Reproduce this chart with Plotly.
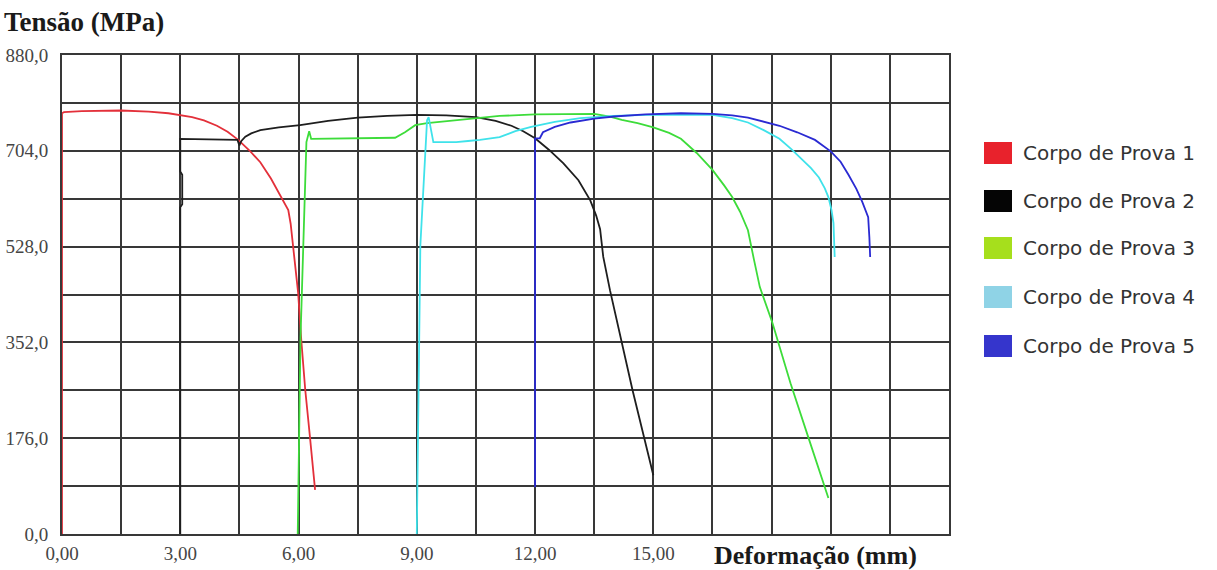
import plotly.graph_objects as go

# ---- data ----
series_names = ["Corpo de Prova 1", "Corpo de Prova 2", "Corpo de Prova 3",
                "Corpo de Prova 4", "Corpo de Prova 5"]

x1 = [0, 0, 0.05, 0.5, 1.5, 2.2, 2.7, 3.0, 3.3, 3.6, 3.93, 4.2, 4.47, 4.75, 5.03,
      5.3, 5.5, 5.65, 5.74, 5.8, 5.86, 5.99, 6.07, 6.17, 6.29, 6.42]
y1 = [0, 773, 775, 777, 778, 776, 773, 770, 766, 760, 750, 739, 724, 705, 683,
      653, 627, 606, 595, 570, 527, 443, 356, 265, 178, 81]

x2 = [3.0, 3.0, 3.05, 3.05, 3.0, 3.0, 4.45, 4.5, 4.55, 4.65, 4.8, 5.03, 5.5, 6.04,
      6.75, 7.5, 8.25, 9.0, 9.75, 10.5, 11.0, 11.4, 11.7, 12.0, 12.35, 12.72, 13.1,
      13.4, 13.55, 13.65, 13.73, 13.9, 14.47, 15.0]
y2 = [0, 600, 606, 660, 666, 726, 724, 714, 722, 730, 736, 742, 747, 751,
      759, 765, 768, 770, 769, 766, 759, 750, 740, 727, 706, 681, 650,
      613, 585, 560, 509, 448, 265, 108]

x3 = [5.98, 6.05, 6.2, 6.27, 6.32, 7.0, 8.45, 8.7, 8.96, 9.26, 9.97, 10.5, 11.1,
      12.0, 13.5, 13.9, 14.2, 14.6, 15.0, 15.4, 15.7, 16.1, 16.5, 16.8, 17.0, 17.2,
      17.4, 17.55, 17.7, 18.02, 18.48, 18.93, 19.44]
y3 = [0, 360, 720, 740, 726, 727, 728, 738, 751, 755, 760, 764, 768,
      771, 772, 767, 761, 755, 747, 737, 726, 700, 669, 640, 619, 592,
      558, 505, 454, 388, 277, 178, 66]

x4 = [9.0, 9.04, 9.09, 9.26, 9.3, 9.42, 10.0, 10.3, 10.6, 11.1, 11.5, 11.9, 12.5,
      13.15, 14.0, 14.85, 16.5, 17.0, 17.4, 17.8, 18.2, 18.5, 18.7, 19.0, 19.2,
      19.35, 19.44, 19.52, 19.57, 19.6]
y4 = [0, 246, 530, 760, 766, 720, 720, 722, 724, 729, 740, 748, 757,
      764, 768, 770, 770, 764, 756, 742, 726, 707, 693, 672, 655,
      635, 619, 595, 571, 509]

x5 = [12.0, 12.0, 12.12, 12.2, 12.5, 12.9, 13.5, 14.0, 14.8, 15.7, 16.5, 17.0,
      17.4, 17.8, 18.2, 18.65, 19.1, 19.5, 19.75, 19.95, 20.15, 20.3, 20.45,
      20.48, 20.5]
y5 = [86, 727, 727, 738, 748, 756, 763, 767, 771, 773, 772, 769,
      765, 758, 750, 738, 724, 703, 684, 660, 634, 610, 582,
      545, 509]

xs = [x1, x2, x3, x4, x5]
ys = [y1, y2, y3, y4, y5]

line_colors = ["#e3303a", "#1e1e1e", "#3ddc3a", "#3fe2ea", "#2a2ad2"]
legend_colors = ["#e8222c", "#050505", "#a6df1c", "#8fd3e6", "#3535cc"]

x_ticks = [i * 1.5 for i in range(16)]
y_ticks = [i * 88.0 for i in range(11)]

# ---- figure ----
W, H = 1217, 570
L, R, T, B = 62, 268, 55, 36

fig = go.Figure()
for name, x, y, c in zip(series_names, xs, ys, line_colors):
    fig.add_trace(go.Scatter(x=x, y=y, mode="lines", name=name, showlegend=False,
                             line=dict(color=c, width=1.8)))

x_text = [(f"{v:.2f}".replace(".", ",") if (abs(v % 3) < 1e-9 and v <= 15) else "")
          for v in x_ticks]
y_text = [(f"{v:.1f}".replace(".", ",") if abs(v % 176) < 1e-9 else "") for v in y_ticks]

grid_color = "#383838"
tick_font = dict(family="Liberation Serif", size=19, color="#454545")

fig.update_xaxes(range=[0, 22.5], tickmode="array", tickvals=x_ticks, ticktext=x_text,
                 showgrid=True, gridcolor=grid_color, gridwidth=2, zeroline=False,
                 showline=True, linecolor=grid_color, linewidth=2, mirror=True,
                 ticks="outside", ticklen=1, tickcolor="rgba(0,0,0,0)",
                 tickfont=tick_font, automargin=False)
fig.update_yaxes(range=[0, 880], tickmode="array", tickvals=y_ticks, ticktext=y_text,
                 showgrid=True, gridcolor=grid_color, gridwidth=2, zeroline=False,
                 showline=True, linecolor=grid_color, linewidth=2, mirror=True,
                 ticks="outside", ticklen=8, tickcolor="rgba(0,0,0,0)",
                 tickfont=tick_font, automargin=False)

pw = W - L - R
ph = H - T - B

def px_to_paper(px, py):
    return (px - L) / pw, (H - B - py) / ph

annotations = []
shapes = []

# axis titles
ax, ay = px_to_paper(2, 22)
annotations.append(dict(text="<b>Tensão (MPa)</b>", xref="paper", yref="paper",
                        x=ax, y=ay, xanchor="left", yanchor="middle", showarrow=False,
                        font=dict(family="Liberation Serif", size=27, color="#1a1a1a")))
ax, ay = px_to_paper(815, 555)
annotations.append(dict(text="<b>Deformação (mm)</b>", xref="paper", yref="paper",
                        x=ax, y=ay, xanchor="center", yanchor="middle", showarrow=False,
                        font=dict(family="Liberation Serif", size=26, color="#1a1a1a")))

# legend drawn as squares + labels
item_y = [153, 201, 248, 297, 346]
for name, c, cy in zip(series_names, legend_colors, item_y):
    x0, y0 = px_to_paper(984, cy + 11)
    x1_, y1_ = px_to_paper(1012, cy - 11)
    shapes.append(dict(type="rect", xref="paper", yref="paper", x0=x0, y0=y0,
                       x1=x1_, y1=y1_, fillcolor=c, line=dict(width=0)))
    tx, ty = px_to_paper(1021, cy)
    annotations.append(dict(text=name, xref="paper", yref="paper", x=tx, y=ty,
                            xanchor="left", yanchor="middle", showarrow=False,
                            font=dict(family="DejaVu Sans", size=20, color="#333333")))

fig.update_layout(width=W, height=H, margin=dict(l=L, r=R, t=T, b=B, pad=0, autoexpand=False),
                  paper_bgcolor="white", plot_bgcolor="white",
                  showlegend=False, annotations=annotations, shapes=shapes)

fig.write_html("out.html")
